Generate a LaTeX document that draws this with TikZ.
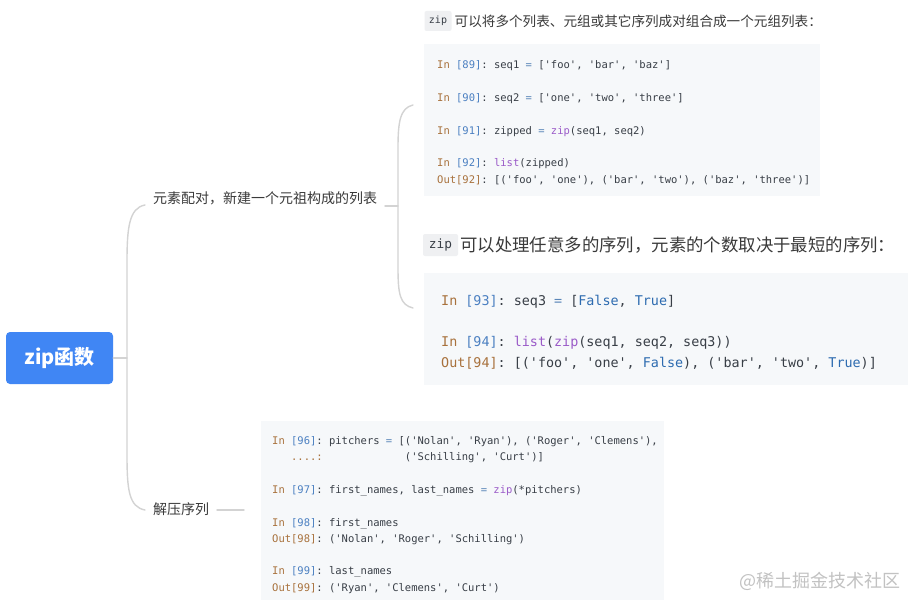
\documentclass[tikz,border=0pt]{standalone}
\usepackage{fontspec}
\setmainfont{Noto Sans CJK SC}
\setmonofont{DejaVu Sans Mono}
\definecolor{rootblue}{HTML}{4086F4}
\definecolor{linegray}{HTML}{D3D3D3}
\definecolor{labeltext}{HTML}{3A3A3A}
\definecolor{codebg}{HTML}{F6F8FA}
\definecolor{zipbg}{HTML}{EFF0F2}
\definecolor{codefg}{HTML}{383E46}
\definecolor{cprompt}{HTML}{A8713C}
\definecolor{cnum}{HTML}{4A7FC1}
\definecolor{ckw}{HTML}{9A5AC8}
\definecolor{cbool}{HTML}{2D6BB0}
\definecolor{cop}{HTML}{5A86B8}
\definecolor{wmark}{HTML}{C2C2C2}
\newcommand\cdIn[1]{\textcolor{cprompt}{In }\textcolor{cnum}{[#1]}: }
\newcommand\cdOut[1]{\textcolor{cprompt}{Out[#1]}: }
\newcommand\cdKw[1]{\textcolor{ckw}{#1}}
\newcommand\cdBool[1]{\textcolor{cbool}{#1}}
\newcommand\cdOp[1]{\textcolor{cop}{#1}}
\begin{document}
\begin{tikzpicture}[x=1pt,y=-1pt,
  branch/.style={draw=linegray, line width=1.4pt, line cap=round},
  codebox/.style={fill=codebg, draw=none, anchor=north west, inner sep=0},
  codeA/.style={anchor=base west, inner sep=0, text=codefg, font=\ttfamily\fontsize{10.5}{12}\selectfont},
  codeB/.style={anchor=base west, inner sep=0, text=codefg, font=\ttfamily\fontsize{13.4}{16}\selectfont},
  lbl/.style={anchor=west, inner sep=0, text=labeltext, font=\fontsize{14}{17}\selectfont},
  hdr/.style={anchor=west, inner sep=0, text=labeltext},
  zipbox/.style={fill=zipbg, rounded corners=2pt, inner sep=0, text=codefg}]
\useasboundingbox (0,0) rectangle (919,610);
\fill[white] (0,0) rectangle (919,610);

% root
\node[fill=rootblue, rounded corners=4pt, minimum width=107pt, minimum height=52pt, inner sep=0,
  text=white, font=\bfseries\fontsize{20}{24}\selectfont] (root) at (59.5,358) {zip函数};

% branch labels
\node[lbl] (l1) at (153,198) {元素配对，新建一个元祖构成的列表};
\node[lbl] (l2) at (153,509) {解压序列};

% connectors level 1
\coordinate (j1) at (127,358);
\coordinate (t1) at (145,205);
\coordinate (t2) at (145,510);
\draw[branch] (root.east) -- (j1);
\draw[branch] (t1) .. controls (129,208) and (127,228) .. (127,262) -- (127,455) .. controls (127,490) and (129,507) .. (t2);
\coordinate (s2a) at (217,510);
\coordinate (s2b) at (244,510);
\draw[branch] (s2a) -- (s2b);

% connectors level 2
\coordinate (s1a) at (385,206);
\coordinate (j2) at (398,206);
\coordinate (u1) at (413,105);
\coordinate (u2) at (413,308);
\draw[branch] (s1a) -- (j2);
\draw[branch] (u1) .. controls (400,108) and (398,122) .. (398,148) -- (398,268) .. controls (398,294) and (400,305) .. (u2);

% header 1
\node[zipbox, minimum width=27pt, minimum height=20pt, font=\ttfamily\fontsize{10}{12}\selectfont] (h1zip) at (438,21) {zip};
\node[hdr, font=\fontsize{13.6}{16}\selectfont] (h1) at (454.5,21) {可以将多个列表、元组或其它序列成对组合成一个元组列表：};

% code block 1
\node[codebox, minimum width=396pt, minimum height=152pt] (b1) at (424,44) {};
\node[codeA] (c11) at (437,69) {\cdIn{89}seq1 \cdOp{=} ['foo', 'bar', 'baz']};
\node[codeA] (c12) at (437,101.6) {\cdIn{90}seq2 \cdOp{=} ['one', 'two', 'three']};
\node[codeA] (c13) at (437,134.2) {\cdIn{91}zipped \cdOp{=} \cdKw{zip}(seq1, seq2)};
\node[codeA] (c14) at (437,166.8) {\cdIn{92}\cdKw{list}(zipped)};
\node[codeA] (c15) at (437,183.1) {\cdOut{92}[('foo', 'one'), ('bar', 'two'), ('baz', 'three')]};

% header 2
\node[zipbox, minimum width=35pt, minimum height=22pt, font=\ttfamily\fontsize{12.8}{15}\selectfont] (h2zip) at (440.5,245) {zip};
\node[hdr, font=\fontsize{17.4}{20}\selectfont] (h2) at (460,245) {可以处理任意多的序列，元素的个数取决于最短的序列：};

% code block 2
\node[codebox, minimum width=484pt, minimum height=112pt] (b2) at (424,273) {};
\node[codeB] (c21) at (441,305.5) {\cdIn{93}seq3 \cdOp{=} [\cdBool{False}, \cdBool{True}]};
\node[codeB] (c22) at (441,346.5) {\cdIn{94}\cdKw{list}(\cdKw{zip}(seq1, seq2, seq3))};
\node[codeB] (c23) at (441,367) {\cdOut{94}[('foo', 'one', \cdBool{False}), ('bar', 'two', \cdBool{True})]};

% code block 3
\node[codebox, minimum width=403pt, minimum height=179pt] (b3) at (261,421) {};
\node[codeA] (c31) at (272,444.5) {\cdIn{96}pitchers \cdOp{=} [('Nolan', 'Ryan'), ('Roger', 'Clemens'),};
\node[codeA] (c32) at (272,460.8) {\hphantom{xxx}\textcolor{cprompt}{....:}\hphantom{xxxxxxxxxxxxx}('Schilling', 'Curt')]};
\node[codeA] (c33) at (272,493.4) {\cdIn{97}first\_names, last\_names \cdOp{=} \cdKw{zip}(*pitchers)};
\node[codeA] (c34) at (272,526) {\cdIn{98}first\_names};
\node[codeA] (c35) at (272,542.3) {\cdOut{98}('Nolan', 'Roger', 'Schilling')};
\node[codeA] (c36) at (272,574.9) {\cdIn{99}last\_names};
\node[codeA] (c37) at (272,591.2) {\cdOut{99}('Ryan', 'Clemens', 'Curt')};

% watermark
\node[anchor=west, inner sep=0, text=wmark, font=\fontsize{18}{20}\selectfont] (wm) at (739,581) {@稀土掘金技术社区};
\end{tikzpicture}
\end{document}
